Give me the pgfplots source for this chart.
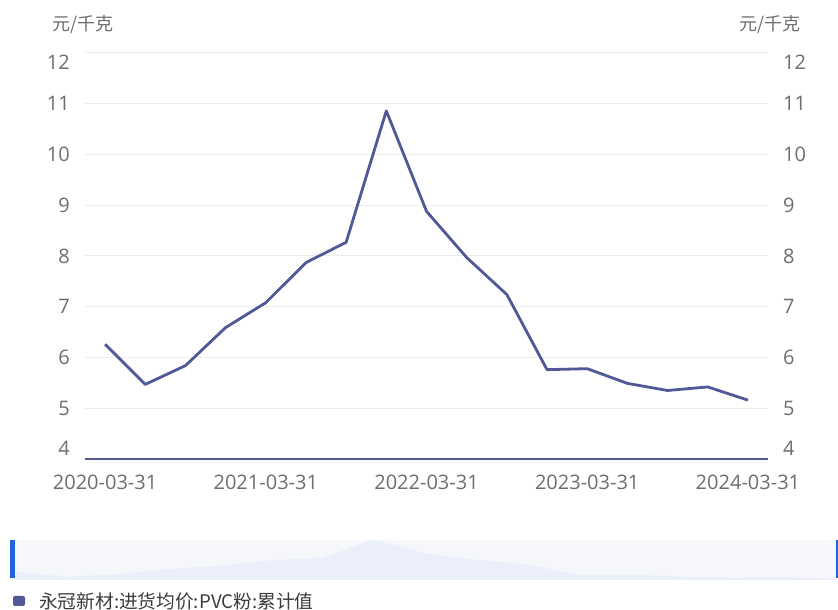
\documentclass[border=0pt]{standalone}
\usepackage{fontspec}
\setmainfont{Open Sans}
\newfontfamily\cjk{Noto Sans CJK SC}
\usepackage{pgfplots}
\usepackage{pgfplotstable}
\pgfplotsset{compat=1.18}

\definecolor{linec}{RGB}{80,88,150}
\definecolor{tickc}{RGB}{110,110,110}
\definecolor{gridc}{RGB}{236,236,236}
\definecolor{slidebg}{RGB}{246,247,251}
\definecolor{shadowc}{RGB}{234,239,249}
\definecolor{handlec}{RGB}{30,100,220}
\definecolor{legc}{RGB}{60,60,60}

% quarterly values, 2020-03-31 ... 2024-03-31
\pgfplotstableread{
x y
0 6.26
1 5.47
2 5.84
3 6.59
4 7.08
5 7.87
6 8.27
7 10.86
8 8.88
9 7.97
10 7.24
11 5.76
12 5.78
13 5.49
14 5.35
15 5.42
16 5.16
}\pvc

\begin{document}
\begin{tikzpicture}[x=1pt,y=1pt]
\useasboundingbox (0,0) rectangle (838,610);
\clip (0,0) rectangle (838,610);
\fill[white] (0,0) rectangle (838,610);

% data zoom slider
\fill[slidebg] (12,30) rectangle (836,70);
\begin{axis}[
  at={(14pt,30pt)}, anchor=south west,
  scale only axis, width=822pt, height=40pt,
  xmin=0, xmax=16, ymin=5.0, ymax=10.86,
  hide axis, clip=false,
]
\addplot[draw=none, fill=shadowc] table {\pvc} \closedcycle;
\end{axis}
\fill[handlec] (10,32) rectangle (14.5,70);
\fill[handlec] (835.5,32) rectangle (838,70);

% main chart, left axis
\begin{axis}[
  at={(85pt,151pt)}, anchor=south west,
  scale only axis, width=683pt, height=406pt,
  xmin=-0.5, xmax=16.5, ymin=4, ymax=12,
  xtick={0,4,8,12,16},
  xticklabels={2020-03-31,2021-03-31,2022-03-31,2023-03-31,2024-03-31},
  ytick={4,5,6,7,8,9,10,11,12},
  yticklabels={,5,6,7,8,9,10,11,},
  axis x line*=bottom, axis y line*=left,
  x axis line style={draw=linec, line width=1.6pt, -},
  y axis line style={draw=none},
  major tick length=0pt,
  ymajorgrids, grid style={gridc, line width=1pt},
  tick label style={font=\fontsize{20}{24}\selectfont, text=tickc, inner sep=0pt},
  xticklabel style={anchor=base, yshift=-31pt},
  yticklabel style={anchor=east, xshift=-15pt},
  /pgf/number format/assume math mode=true,
  clip=false,
]
\addplot[linec, line width=2.8pt, line join=round] table {\pvc};
\node[anchor=east, inner sep=0pt, text=tickc, font=\fontsize{20}{24}\selectfont,
  xshift=-15pt, yshift=-9pt] at (axis cs:-0.5,12) {12};
\node[anchor=east, inner sep=0pt, text=tickc, font=\fontsize{20}{24}\selectfont,
  xshift=-15pt, yshift=11pt] at (axis cs:-0.5,4) {4};
\node[anchor=west, inner sep=0pt, text=tickc, font=\fontsize{20}{24}\selectfont,
  xshift=15pt, yshift=-9pt] at (axis cs:16.5,12) {12};
\node[anchor=west, inner sep=0pt, text=tickc, font=\fontsize{20}{24}\selectfont,
  xshift=15pt, yshift=11pt] at (axis cs:16.5,4) {4};
\end{axis}

% right axis labels
\begin{axis}[
  at={(85pt,151pt)}, anchor=south west,
  scale only axis, width=683pt, height=406pt,
  xmin=-0.5, xmax=16.5, ymin=4, ymax=12,
  axis y line*=right, axis x line=none,
  y axis line style={draw=none},
  major tick length=0pt,
  ytick={4,5,6,7,8,9,10,11,12},
  yticklabels={,5,6,7,8,9,10,11,},
  tick label style={font=\fontsize{20}{24}\selectfont, text=tickc, inner sep=0pt},
  yticklabel style={anchor=west, xshift=15pt},
  /pgf/number format/assume math mode=true,
]
\end{axis}

% units
\node[anchor=west, inner sep=0pt, text=tickc, font=\cjk\fontsize{18}{20}\selectfont]
  at (52,585) {元/千克};
\node[anchor=east, inner sep=0pt, text=tickc, font=\cjk\fontsize{18}{20}\selectfont]
  at (801,585) {元/千克};

% legend
\fill[linec, rounded corners=2pt] (13,4) rectangle (25,14);
\node[anchor=west, inner sep=0pt, text=legc, font=\cjk\fontsize{18.7}{20}\selectfont]
  at (39,9) {永冠新材:进货均价:PVC粉:累计值};
\end{tikzpicture}
\end{document}
